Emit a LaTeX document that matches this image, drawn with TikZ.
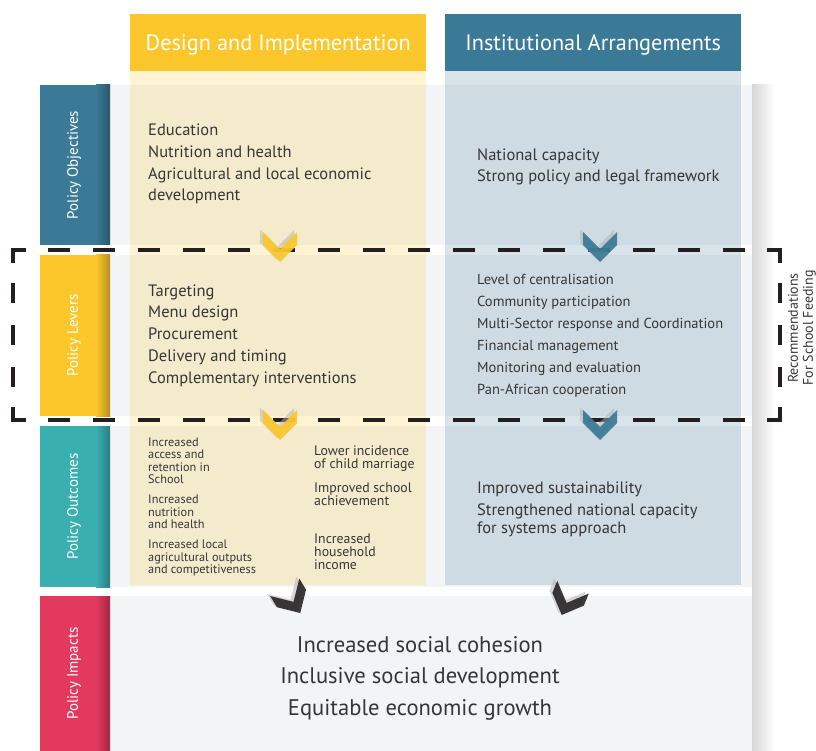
\documentclass[tikz,border=0pt]{standalone}
\usepackage{fontspec}
\setmainfont{PT Sans}
\usetikzlibrary{calc}

\definecolor{designyellow}{HTML}{FCC72A}
\definecolor{instblue}{HTML}{3A7A96}
\definecolor{outteal}{HTML}{3AAFB0}
\definecolor{impred}{HTML}{E4395E}
\definecolor{panelgray}{HTML}{F3F4F6}
\definecolor{chevdark}{HTML}{2B2829}
\definecolor{framedark}{HTML}{231F20}
\definecolor{txtgray}{HTML}{363636}

\begin{document}
\begin{tikzpicture}[x=1pt,y=-1pt]
    % `header' is used for the two column titles.
    % `rowlabel' is used for the rotated texts in the coloured boxes on the left.
    % `cell' is used for the texts inside the grid (anchored on their last line).
    \tikzstyle{header} = [anchor=north west,minimum width=296pt,minimum height=57pt,inner sep=0pt,text=white,text height=19pt,text depth=4pt,font=\fontsize{22.3}{25}\selectfont]
    \tikzstyle{rowlabel} = [rotate=90,text=white,inner sep=0pt,font=\fontsize{15}{17}\selectfont]
    \tikzstyle{cell} = [anchor=base west,align=left,inner sep=0pt,text=txtgray,font=\fontsize{16.5}{21.7}\selectfont]
    \tikzstyle{smallcell} = [cell,font=\fontsize{12.3}{12.2}\selectfont]
    \tikzstyle{midcell} = [cell,font=\fontsize{13.8}{12.8}\selectfont]
    \tikzstyle{dashframe} = [framedark,line width=3.6pt]
    \useasboundingbox (0,0) rectangle (816,751);
    %
    % Shadow on the right of the grey panel.
    \shade[left color=black!16,right color=white] (752,85) rectangle (775,751);
    % Grey rows and the coloured row labels.
    \foreach \top/\bot/\col/\lab/\name in {85/245/instblue/Policy Objectives/lobj,
        255/416/designyellow/Policy Levers/llev,
        426/587/outteal/Policy Outcomes/lout,
        596/751/impred/Policy Impacts/limp} {
      \fill[panelgray] (110,\top) rectangle (752,\bot);
      \fill[\col] (40,\top) rectangle (110,\bot);
      \shade[left color=\col,right color=\col!72!black] (96,\top) rectangle (110,\bot);
      \node[rowlabel] (\name) at (74,{(\top+\bot)/2}) {\lab};
    }
    % Column bands.
    \fill[designyellow,fill opacity=0.2] (130,71) rectangle (426,585);
    \fill[instblue,fill opacity=0.2] (445,71) rectangle (741,585);
    \node[header,fill=designyellow] (hdesign) at (130,14) {Design and Implementation};
    \node[header,fill=instblue] (hinst) at (445,14) {Institutional Arrangements};
    %
    % Policy objectives.
    \node[cell] (obj1) at (148,201) {Education\\Nutrition and health\\Agricultural and local economic\\development};
    \node[cell] (obj2) at (477,182) {National capacity\\Strong policy and legal framework};
    % Policy levers.
    \node[cell] (lev1) at (148,383) {Targeting\\Menu design\\Procurement\\Delivery and timing\\Complementary interventions};
    \node[cell,font=\fontsize{14.5}{21.9}\selectfont] (lev2) at (477,394) {Level of centralisation\\Community participation\\Multi-Sector response and Coordination\\Financial management\\Monitoring and evaluation\\Pan-African cooperation};
    % Policy outcomes.
    \node[smallcell] (out1) at (148,483.3) {Increased\\access and\\retention in\\School};
    \node[smallcell] (out2) at (148,528.3) {Increased\\nutrition\\and health};
    \node[smallcell] (out3) at (148,573.3) {Increased local\\agricultural outputs\\and competitiveness};
    \node[midcell] (out4) at (314,468.3) {Lower incidence\\of child marriage};
    \node[midcell] (out5) at (314,505) {Improved school\\achievement};
    \node[midcell] (out6) at (314,569) {Increased\\household\\income};
    \node[cell] (out7) at (477,533) {Improved sustainability\\Strengthened national capacity\\[-4pt]for systems approach};
    % Policy impacts.
    \node[anchor=base,align=center,inner sep=0pt,text=txtgray,font=\fontsize{22.6}{31.3}\selectfont] (impacts) at (420,715) {Increased social cohesion\\Inclusive social development\\Equitable economic growth};
    %
    % Dashed frame round the levers.
    \draw[dashframe] (13,263) -- (13,250) -- (26,250);
    \draw[dashframe] (767,250) -- (780,250) -- (780,263);
    \draw[dashframe] (13,407) -- (13,420) -- (26,420);
    \draw[dashframe] (767,420) -- (780,420) -- (780,407);
    \draw[dashframe,dash pattern=on 22pt off 23pt] (48,250) -- (745,250);
    \draw[dashframe,dash pattern=on 22pt off 23pt] (48,420) -- (745,420);
    \draw[dashframe,dash pattern=on 20pt off 22pt] (13,283) -- (13,387);
    \draw[dashframe,dash pattern=on 20pt off 22pt] (780,283) -- (780,387);
    \node[rotate=90,align=center,inner sep=0pt,text=txtgray,font=\fontsize{14}{15}\selectfont] (recs) at (802,328) {Recommendations\\For School Feeding};
    %
    % Chevrons.
    \foreach \cx/\cy/\rot/\col in {280/248/0/designyellow,600/248/0/instblue,
        280/426/0/designyellow,600/426/0/instblue,
        293/601/31/chevdark,567/602/-22/chevdark} {
      \fill[black!30,opacity=0.5,shift={(\cx-3,\cy-2)},rotate=\rot]
        (-17,-16) -- (-17,-3) -- (0,14) -- (17,-3) -- (17,-16) -- (0,1) -- cycle;
      \fill[\col,opacity=0.92,shift={(\cx,\cy)},rotate=\rot]
        (-17,-16) -- (-17,-3) -- (0,14) -- (17,-3) -- (17,-16) -- (0,1) -- cycle;
    }
\end{tikzpicture}
\end{document}
